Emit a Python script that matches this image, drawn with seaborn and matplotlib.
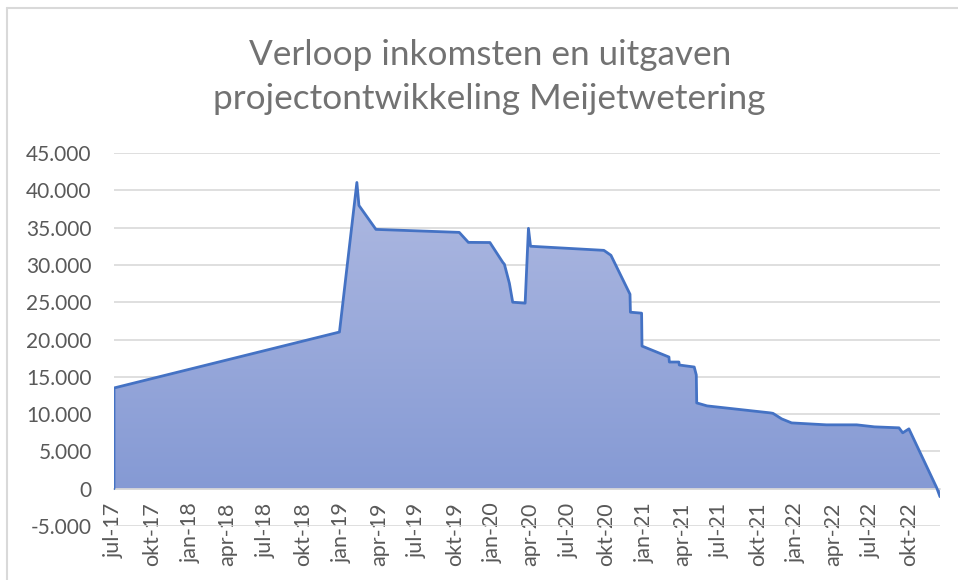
import numpy as np
import pandas as pd
import matplotlib
matplotlib.use("Agg")
import matplotlib.pyplot as plt
import matplotlib.dates as mdates
import seaborn as sns
from matplotlib.ticker import FuncFormatter, MultipleLocator, FixedLocator, FixedFormatter
from matplotlib.lines import Line2D
from matplotlib.colors import LinearSegmentedColormap

# ---------------- data ----------------
dates = [
    "2017-07-01", "2018-12-27", "2019-02-07", "2019-02-12", "2019-03-25",
    "2019-10-12", "2019-11-03", "2019-12-25", "2020-01-25", "2020-01-29",
    "2020-02-10", "2020-02-18", "2020-03-19", "2020-03-27", "2020-04-01",
    "2020-09-25", "2020-10-12", "2020-11-27", "2020-11-28", "2020-12-25",
    "2020-12-26", "2021-03-01", "2021-03-02", "2021-03-25", "2021-03-26",
    "2021-05-01", "2021-05-06", "2021-05-07", "2021-06-01", "2021-11-01",
    "2021-11-07", "2021-11-28", "2021-12-22", "2022-03-16", "2022-05-28",
    "2022-07-10", "2022-09-07", "2022-09-16", "2022-10-01", "2022-12-07",
    "2022-12-15",
]
values = [
    13500, 21000, 41050, 37970, 34760,
    34360, 33020, 33000, 30350, 30080,
    27540, 25000, 24870, 34900, 32500,
    31950, 31290, 26070, 23660, 23530,
    19120, 17650, 16980, 16980, 16580,
    16310, 15240, 11500, 11100, 10160,
    10100, 9360, 8820, 8560, 8560,
    8290, 8160, 7490, 8020, 130,
    -1070,
]
month_names = {1: "jan", 4: "apr", 7: "jul", 10: "okt"}
tick_start = "2017-07-01"
tick_end = "2022-10-01"
title_lines = ["Verloop inkomsten en uitgaven",
               "projectontwikkeling Meijetwetering"]

# ---------------- style ----------------
sns.set_theme(style="white")
plt.rcParams["font.family"] = ["Lato", "DejaVu Sans"]
TXT = "#595959"
GRID = "#D9D9D9"
LINE = "#4472C4"

df = pd.DataFrame({"datum": pd.to_datetime(dates), "saldo": values})
df["x"] = mdates.date2num(df["datum"])

W, H = 958, 580
fig = plt.figure(figsize=(W / 100, H / 100), dpi=100)
fig.patch.set_facecolor("white")
ax = fig.add_axes([114 / W, 1 - 526 / H, (940 - 114) / W, (526 - 153) / H])

xnum = df["x"].to_numpy()

# gradient area
poly = ax.fill_between(xnum, 0, df["saldo"], facecolor="none", edgecolor="none")
cmap = LinearSegmentedColormap.from_list("g", ["#8499D4", "#AEB9E1"])
grad = np.linspace(0, 1, 256).reshape(-1, 1)
im = ax.imshow(grad, cmap=cmap, origin="lower", aspect="auto",
               extent=[xnum[0], xnum[-1], min(values), max(values)], zorder=1)
im.set_clip_path(poly.get_paths()[0], transform=ax.transData)

# outline (starting from the baseline at the first date)
line_x = [xnum[0]] + list(xnum)
line_y = [0] + list(df["saldo"])
sns.lineplot(x=line_x, y=line_y, sort=False, estimator=None, ax=ax,
             color=LINE, lw=2.0, zorder=3)

# axes
ax.set_xlim(xnum[0], xnum[-1])
ax.set_ylim(-5000, 45000)
ax.yaxis.set_major_locator(MultipleLocator(5000))
ax.yaxis.set_major_formatter(FuncFormatter(lambda v, p: f"{int(round(v)):,}".replace(",", ".")))
ax.grid(axis="y", color=GRID, lw=1.2)
ax.grid(axis="x", visible=False)
ax.set_axisbelow(True)

ticks = pd.date_range(tick_start, tick_end, freq="3MS")
labels = [f"{month_names[t.month]}-{t.year % 100:02d}" for t in ticks]
ax.xaxis.set_major_locator(FixedLocator(mdates.date2num(ticks)))
ax.xaxis.set_major_formatter(FixedFormatter(labels))

for s in ["left", "right", "top"]:
    ax.spines[s].set_visible(False)
ax.spines["bottom"].set_position(("data", 0))
ax.spines["bottom"].set_color(GRID)
ax.spines["bottom"].set_linewidth(1.2)
ax.spines["bottom"].set_zorder(2)

ax.tick_params(axis="x", length=0, pad=10, labelsize=15.5, colors=TXT, labelrotation=90)
ax.tick_params(axis="y", length=0, pad=16, labelsize=15, colors=TXT)
ax.set_xlabel("")
ax.set_ylabel("")
ax.patch.set_alpha(0)

# title
fig.text(490 / W, 1 - 55 / H, title_lines[0], ha="center", va="center",
         fontsize=25.3, color="#727272")
fig.text(489 / W, 1 - 99 / H, title_lines[1], ha="center", va="center",
         fontsize=25.3, color="#727272")

# chart frame
fig.add_artist(Line2D([7 / W, 1], [1 - 8 / H, 1 - 8 / H], color=GRID, lw=1.5))
fig.add_artist(Line2D([7 / W, 7 / W], [0, 1 - 8 / H], color=GRID, lw=1.5))

fig.savefig("out.png", dpi=100)
